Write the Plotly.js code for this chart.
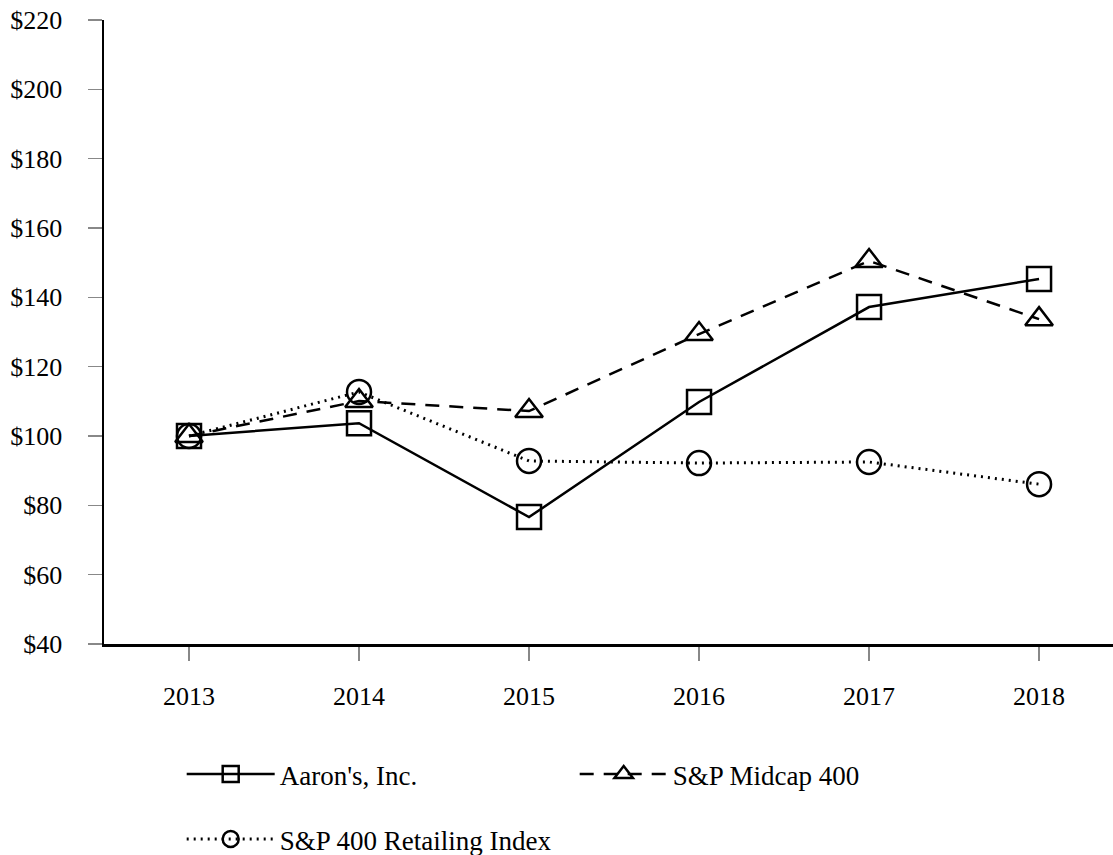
<!DOCTYPE html>
<html>
<head>
<meta charset="utf-8">
<script src="https://cdn.plot.ly/plotly-3.0.1.min.js"></script>
<style>html,body{margin:0;padding:0;background:#fff;}#chart{width:1113px;height:855px;}</style>
</head>
<body>
<div id="chart"></div>
<script>
const years = ['2013', '2014', '2015', '2016', '2017', '2018'];
const aarons = [100, 103.7, 76.6, 109.8, 137.2, 145.3];
const midcap = [100, 110.1, 107.2, 129.4, 150.5, 133.7];
const retailing = [100, 112.7, 92.8, 92.2, 92.5, 86.1];
const seriesNames = ["Aaron's, Inc.", 'S&P Midcap 400', 'S&P 400 Retailing Index'];

const font = 'Liberation Serif, Times New Roman, serif';
const traces = [
  {x: years, y: aarons, name: seriesNames[0], mode: 'lines+markers', legend: 'legend',
   line: {color: '#000', width: 2.5},
   marker: {symbol: 'square-open', size: 24, color: '#000', line: {width: 2.5, color: '#000'}}},
  {x: years, y: midcap, name: seriesNames[1], mode: 'lines+markers', legend: 'legend',
   line: {color: '#000', width: 2.5, dash: '14px,10px'},
   marker: {symbol: 'triangle-up-open', size: 24, color: '#000', line: {width: 2.5, color: '#000'}}},
  {x: years, y: retailing, name: seriesNames[2], mode: 'lines+markers', legend: 'legend2',
   line: {color: '#000', width: 3, dash: '2px,5px'},
   marker: {symbol: 'circle-open', size: 24, color: '#000', line: {width: 2.5, color: '#000'}}}
];

const layout = {
  width: 1113, height: 855,
  margin: {l: 104, r: 0, t: 20, b: 211, autoexpand: false},
  paper_bgcolor: '#fff', plot_bgcolor: '#fff',
  font: {family: font, size: 26, color: '#000'},
  showlegend: true,
  xaxis: {
    type: 'category', range: [-0.5, 5.435],
    showline: true, linecolor: '#000', linewidth: 2.5,
    ticks: 'outside', ticklen: 14, tickcolor: '#888', tickwidth: 1.5,
    showgrid: false, zeroline: false,
    ticklabelstandoff: 13,
    tickfont: {family: font, size: 26, color: '#000'}
  },
  yaxis: {
    range: [40, 220], dtick: 20, tick0: 40, tickprefix: '$',
    showline: true, linecolor: '#000', linewidth: 2.5,
    ticks: 'outside', ticklen: 14, tickcolor: '#888', tickwidth: 1.5,
    showgrid: false, zeroline: false,
    ticklabelstandoff: 20,
    tickfont: {family: font, size: 26, color: '#000'}
  },
  legend: {
    orientation: 'h', x: 0.077, xanchor: 'left', xref: 'paper',
    y: 0.1228, yanchor: 'top', yref: 'container',
    entrywidth: 290, entrywidthmode: 'pixels', itemwidth: 88,
    font: {family: font, size: 27, color: '#000'}, bgcolor: 'rgba(0,0,0,0)'
  },
  legend2: {
    orientation: 'h', x: 0.077, xanchor: 'left', xref: 'paper',
    y: 0.0468, yanchor: 'top', yref: 'container',
    itemwidth: 88,
    font: {family: font, size: 27, color: '#000'}, bgcolor: 'rgba(0,0,0,0)'
  }
};

Plotly.newPlot('chart', traces, layout, {displayModeBar: false, staticPlot: true});
</script>
</body>
</html>
